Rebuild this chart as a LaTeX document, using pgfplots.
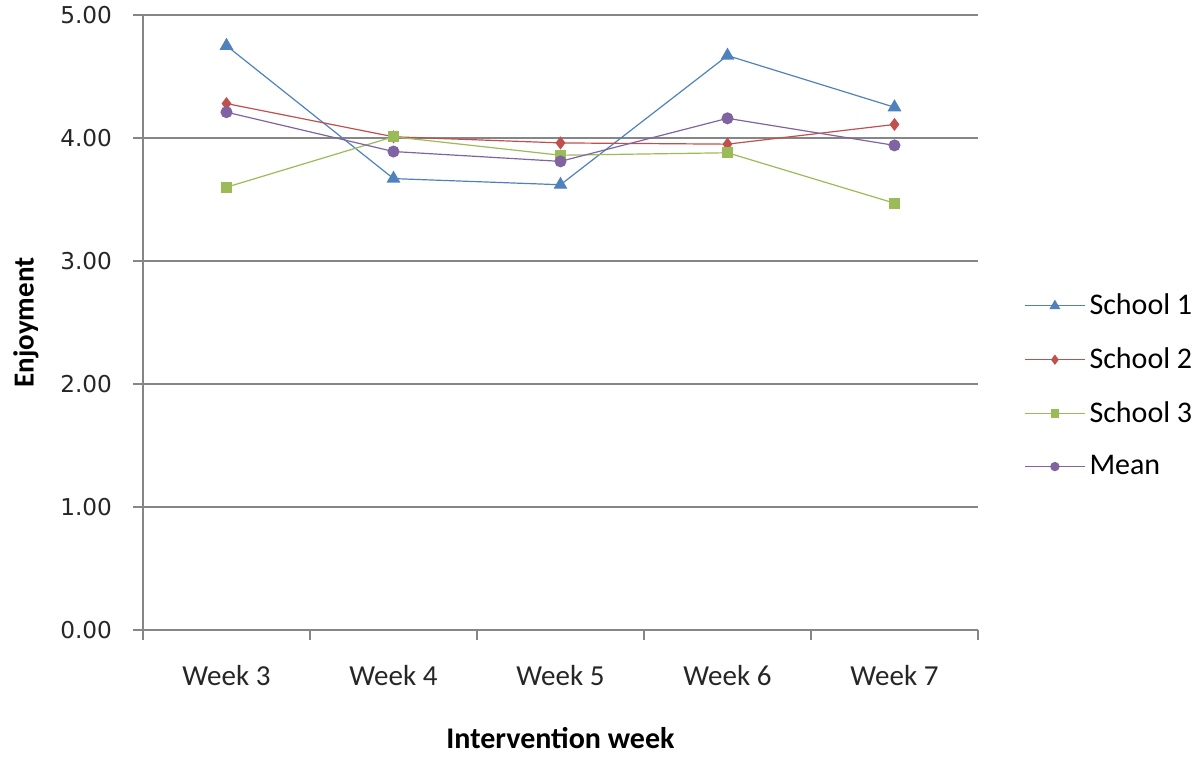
\documentclass[border=0pt]{standalone}
\usepackage{pgfplots}
\pgfplotsset{compat=1.18}
\usepackage{fontspec}
\setmainfont{Carlito}
\newfontfamily\tickfont{DejaVu Sans}
\definecolor{sblue}{HTML}{4F81BD}
\definecolor{sred}{HTML}{C0504D}
\definecolor{sgreen}{HTML}{9BBB59}
\definecolor{spurple}{HTML}{8064A2}
\definecolor{axgray}{HTML}{868686}
\begin{document}
\begin{tikzpicture}
\path[use as bounding box] (-71.5pt,-70.5pt) rectangle (528.5pt,315pt);
\begin{axis}[
  at={(0pt,0pt)}, anchor=south west,
  scale only axis,
  width=417.5pt, height=307.5pt,
  xmin=-0.5, xmax=4.5,
  ymin=0, ymax=5,
  ytick={0,1,2,3,4,5},
  yticklabel={\tickfont\pgfmathprintnumber[fixed,fixed zerofill,precision=2,assume math mode=true]{\tick}},
  xtick={0,1,2,3,4},
  xticklabels={Week 3,Week 4,Week 5,Week 6,Week 7},
  minor xtick={-0.5,0.5,1.5,2.5,3.5,4.5},
  axis x line*=bottom, axis y line*=left,
  axis line style={axgray,line width=0.6pt,-},
  ymajorgrids,
  grid style={axgray,line width=0.6pt},
  tick align=outside,
  major tick length=5pt,
  minor tick length=5pt,
  xtick style={draw=none},
  minor x tick style={axgray,line width=0.6pt,draw=axgray},
  ytick style={axgray,line width=0.6pt},
  xticklabel style={font=\fontsize{14.5}{16}\selectfont, text=black!85, yshift=-9pt},
  yticklabel style={font=\fontsize{11.6}{13}\selectfont, text=black!85, xshift=-7pt},
  xlabel={\textbf{Intervention week}},
  ylabel={\textbf{Enjoyment}},
  xlabel style={font=\fontsize{15}{17}\selectfont, yshift=-14pt},
  ylabel style={font=\fontsize{14.5}{16}\selectfont, yshift=4pt},
  legend style={draw=none, fill=none, at={(1.055,0.397)}, anchor=west,
    font=\fontsize{15}{17}\selectfont, row sep=11pt, inner sep=0pt},
  legend cell align=left,
  legend image code/.code={\draw[mark repeat=2,mark phase=2,#1,mark options={scale=0.75}] plot coordinates {(0pt,0pt) (15pt,0pt) (30pt,0pt)};},
]
\addplot[sblue, line width=0.6pt, mark=triangle*, mark size=3.4pt] coordinates {(0,4.75) (1,3.67) (2,3.62) (3,4.67) (4,4.25)};
\addlegendentry{School 1}
\addplot[sred, line width=0.6pt, mark=diamond*, mark size=2.8pt] coordinates {(0,4.28) (1,4.01) (2,3.96) (3,3.95) (4,4.11)};
\addlegendentry{School 2}
\addplot[sgreen, line width=0.6pt, mark=square*, mark size=2.4pt] coordinates {(0,3.60) (1,4.01) (2,3.86) (3,3.88) (4,3.47)};
\addlegendentry{School 3}
\addplot[spurple, line width=0.6pt, mark=*, mark size=2.7pt] coordinates {(0,4.21) (1,3.89) (2,3.81) (3,4.16) (4,3.94)};
\addlegendentry{Mean}
\end{axis}
\end{tikzpicture}
\end{document}
